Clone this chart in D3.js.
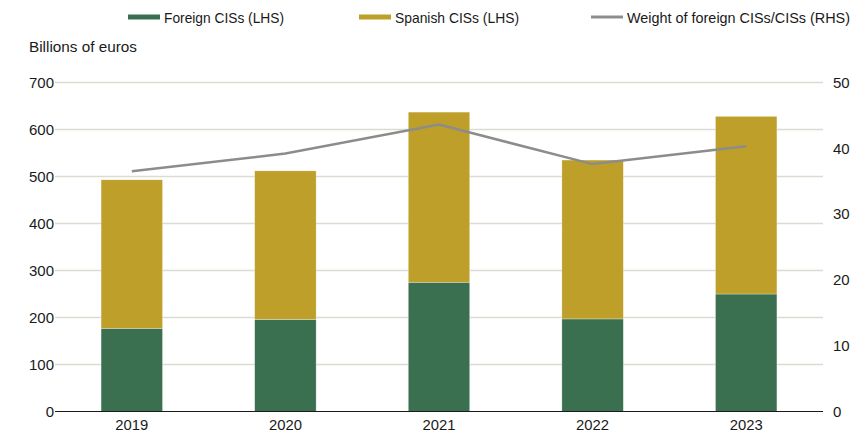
<!DOCTYPE html>
<html>
<head>
<meta charset="utf-8">
<script src="https://cdn.jsdelivr.net/npm/d3@7"></script>
<style>
body { margin: 0; background: #fff; }
text { font-family: "Liberation Sans", Arial, sans-serif; fill: #1a1a1a; }
</style>
</head>
<body>
<div id="chart-area"></div>
<script>
var years = ["2019", "2020", "2021", "2022", "2023"];
var foreign = [177, 196, 275, 197, 250];
var spanish = [316, 316, 362, 338, 378];
var weight = [36.5, 39.2, 43.6, 37.6, 40.3];
var leftTicks = [0, 100, 200, 300, 400, 500, 600, 700];
var rightTicks = [0, 10, 20, 30, 40, 50];

var width = 856, height = 434;
var plot = {left: 55, right: 823, top: 82.5, bottom: 411.5};

var colors = {foreign: "#3a7050", spanish: "#bd9f2a", weight: "#8c8c8c"};

var svg = d3.select("#chart-area")
  .append("svg")
  .attr("width", width)
  .attr("height", height);

var xScale = d3.scaleBand().domain(years).range([plot.left, plot.right]).paddingInner(0.6).paddingOuter(0.3);
var yScale = d3.scaleLinear().domain([0, 700]).range([plot.bottom, plot.top]);
var y2Scale = d3.scaleLinear().domain([0, 50]).range([plot.bottom, plot.top]);

// gridlines
svg.append("g").selectAll("line")
  .data(leftTicks.slice(1))
  .enter().append("line")
  .attr("x1", plot.left).attr("x2", plot.right)
  .attr("y1", d => yScale(d)).attr("y2", d => yScale(d))
  .attr("stroke", "#dcdbd2")
  .attr("stroke-width", 1.5);

// left axis
var yAxis = d3.axisLeft(yScale).tickValues(leftTicks).tickSize(0).tickPadding(0);
var gy = svg.append("g").attr("transform", "translate(" + (plot.left - 1) + ",0)").call(yAxis);
gy.select(".domain").remove();
gy.selectAll("text").style("font-family", "'Liberation Sans', sans-serif").attr("font-size", "15px").attr("fill", "#1a1a1a");

// right axis
var y2Axis = d3.axisRight(y2Scale).tickValues(rightTicks).tickSize(0).tickPadding(0);
var gy2 = svg.append("g").attr("transform", "translate(" + (plot.right + 10) + ",0)").call(y2Axis);
gy2.select(".domain").remove();
gy2.selectAll("text").style("font-family", "'Liberation Sans', sans-serif").attr("font-size", "15px").attr("fill", "#1a1a1a");

// stacked bars
var stackData = years.map((y, i) => ({year: y, foreign: foreign[i], spanish: spanish[i]}));
var series = d3.stack().keys(["foreign", "spanish"])(stackData);

svg.append("g").selectAll("g")
  .data(series)
  .enter().append("g")
  .attr("fill", d => colors[d.key])
  .selectAll("rect")
  .data(d => d)
  .enter().append("rect")
  .attr("x", d => xScale(d.data.year))
  .attr("width", xScale.bandwidth())
  .attr("y", d => yScale(d[1]))
  .attr("height", d => yScale(d[0]) - yScale(d[1]))
  .attr("stroke", "#ffffff")
  .attr("stroke-opacity", 0.5)
  .attr("stroke-width", 0.6);

// baseline
svg.append("line")
  .attr("x1", plot.left).attr("x2", plot.right)
  .attr("y1", yScale(0)).attr("y2", yScale(0))
  .attr("stroke", "#1a1a1a")
  .attr("stroke-width", 1);

// x axis labels
var xAxis = d3.axisBottom(xScale).tickSize(0).tickPadding(0);
var gx = svg.append("g").attr("transform", "translate(0," + (plot.bottom + 8) + ")").call(xAxis);
gx.select(".domain").remove();
gx.selectAll("text").attr("font-size", "15px").attr("fill", "#1a1a1a")
  .attr("textLength", 33).attr("lengthAdjust", "spacingAndGlyphs")
  .style("font-family", "'Liberation Sans', sans-serif");

// weight line
var line = d3.line()
  .x((d, i) => xScale(years[i]) + xScale.bandwidth() / 2)
  .y(d => y2Scale(d));

svg.append("path")
  .datum(weight)
  .attr("d", line)
  .attr("fill", "none")
  .attr("stroke", colors.weight)
  .attr("stroke-width", 2.5);

// unit label
svg.append("text")
  .attr("x", 29).attr("y", 52)
  .attr("font-size", "15px")
  .attr("textLength", 108).attr("lengthAdjust", "spacingAndGlyphs")
  .text("Billions of euros");

// legend
var legend = [
  {label: "Foreign CISs (LHS)", color: colors.foreign, x: 128, w: 120},
  {label: "Spanish CISs (LHS)", color: colors.spanish, x: 359, w: 124},
  {label: "Weight of foreign CISs/CISs (RHS)", color: colors.weight, x: 591, w: 223}
];
var lg = svg.append("g").selectAll("g")
  .data(legend)
  .enter().append("g")
  .attr("transform", d => "translate(" + d.x + ",17)");
lg.append("line")
  .attr("x1", 0).attr("x2", 32)
  .attr("stroke", d => d.color)
  .attr("stroke-width", d => d.label.startsWith("Weight") ? 3 : 5);
lg.append("text")
  .attr("x", 36).attr("y", 5.5)
  .attr("font-size", "14.5px")
  .attr("textLength", d => d.w).attr("lengthAdjust", "spacingAndGlyphs")
  .text(d => d.label);
</script>
</body>
</html>
